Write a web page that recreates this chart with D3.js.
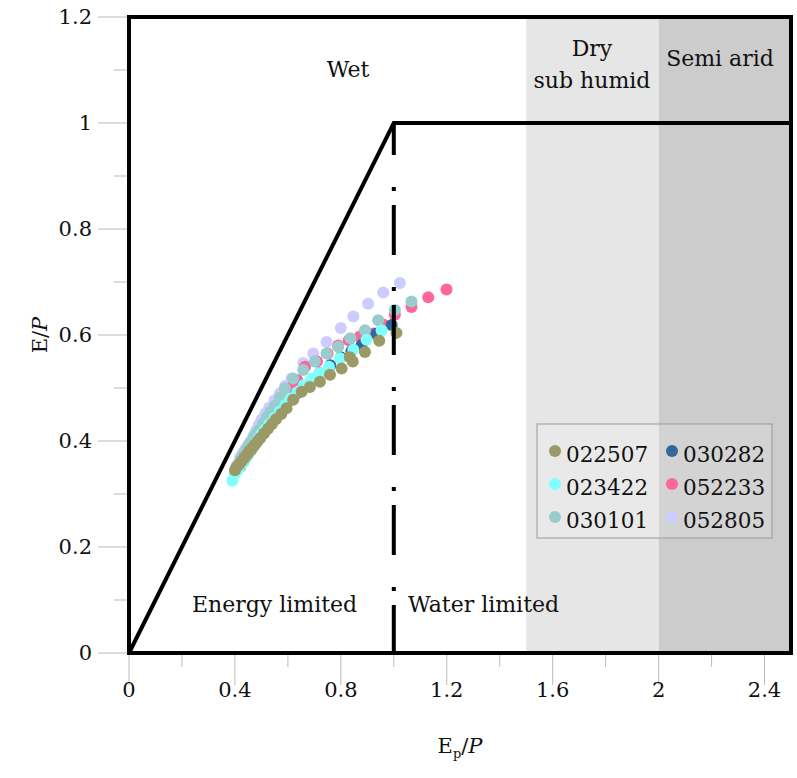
<!DOCTYPE html>
<html>
<head>
<meta charset="utf-8">
<script src="https://cdn.jsdelivr.net/npm/d3@7"></script>
<style>
  body { margin: 0; background: #fff; }
  text { font-family: "DejaVu Serif", serif; fill: #111; }
</style>
</head>
<body>
<svg width="797" height="778"></svg>
<script>
// series: [Ep/P, E/P]
var s022507 = [[0.40,0.345],[0.405,0.35],[0.415,0.355],[0.425,0.362],[0.435,0.368],[0.445,0.374],[0.455,0.381],[0.465,0.387],[0.475,0.393],[0.485,0.399],[0.495,0.405],[0.51,0.414],[0.525,0.423],[0.54,0.432],[0.555,0.441],[0.575,0.451],[0.595,0.462],[0.62,0.478],[0.652,0.493],[0.683,0.502],[0.721,0.512],[0.759,0.525],[0.803,0.537],[0.834,0.558],[0.845,0.55],[0.891,0.568],[0.945,0.589],[1.01,0.604]];
var s023422 = [[0.39,0.325],[0.40,0.338],[0.41,0.345],[0.42,0.353],[0.43,0.36],[0.44,0.368],[0.45,0.375],[0.46,0.383],[0.47,0.39],[0.48,0.398],[0.49,0.405],[0.50,0.413],[0.515,0.422],[0.53,0.432],[0.55,0.444],[0.57,0.456],[0.59,0.468],[0.61,0.48],[0.635,0.492],[0.66,0.505],[0.69,0.518],[0.72,0.528],[0.755,0.54],[0.797,0.556],[0.847,0.572],[0.897,0.591],[0.954,0.609]];
var s030101 = [[0.41,0.355],[0.42,0.363],[0.43,0.372],[0.44,0.381],[0.45,0.39],[0.46,0.398],[0.47,0.405],[0.48,0.413],[0.49,0.42],[0.505,0.432],[0.52,0.445],[0.535,0.455],[0.55,0.466],[0.57,0.482],[0.589,0.499],[0.62,0.518],[0.658,0.534],[0.702,0.55],[0.746,0.565],[0.79,0.578],[0.836,0.594],[0.891,0.609],[0.941,0.628],[1.004,0.647],[1.067,0.663]];
var s030282 = [[0.42,0.352],[0.43,0.36],[0.44,0.368],[0.45,0.375],[0.46,0.382],[0.47,0.39],[0.48,0.397],[0.49,0.404],[0.505,0.414],[0.52,0.425],[0.535,0.434],[0.55,0.443],[0.57,0.455],[0.59,0.466],[0.61,0.478],[0.635,0.49],[0.66,0.502],[0.69,0.515],[0.72,0.528],[0.76,0.543],[0.80,0.558],[0.84,0.57],[0.878,0.581],[0.935,0.603],[0.992,0.619]];
var s052233 = [[0.42,0.36],[0.43,0.368],[0.44,0.375],[0.45,0.383],[0.46,0.39],[0.47,0.398],[0.48,0.405],[0.49,0.413],[0.50,0.42],[0.515,0.431],[0.53,0.442],[0.55,0.455],[0.57,0.469],[0.59,0.484],[0.61,0.50],[0.635,0.515],[0.665,0.54],[0.71,0.55],[0.75,0.565],[0.79,0.58],[0.83,0.59],[0.872,0.597],[0.922,0.603],[0.96,0.62],[1.004,0.638],[1.067,0.653],[1.13,0.671],[1.199,0.686]];
var s052805 = [[0.42,0.37],[0.43,0.378],[0.44,0.385],[0.45,0.393],[0.46,0.40],[0.47,0.41],[0.48,0.42],[0.49,0.43],[0.50,0.44],[0.515,0.452],[0.53,0.463],[0.55,0.477],[0.57,0.49],[0.59,0.504],[0.614,0.518],[0.658,0.547],[0.696,0.565],[0.746,0.587],[0.80,0.613],[0.847,0.635],[0.903,0.659],[0.96,0.68],[1.023,0.698]];

var seriesNames = ["022507", "023422", "030101", "030282", "052233", "052805"];
var seriesData = [s022507, s023422, s030101, s030282, s052233, s052805];
var seriesColors = ["#9b9966", "#80ffff", "#99cccc", "#336699", "#ff6699", "#ccccff"];
var drawOrder = [5, 4, 3, 2, 1, 0];

var xTicks = [0, 0.4, 0.8, 1.2, 1.6, 2, 2.4];
var yTicks = [0, 0.2, 0.4, 0.6, 0.8, 1, 1.2];
var zones = [{ from: 1.5, to: 2.0, fill: "#e6e6e6" }, { from: 2.0, to: 2.5, fill: "#cccccc" }];

var svg = d3.select("svg");
var x = d3.scaleLinear([0, 2.5], [129, 791]);
var y = d3.scaleLinear([0, 1.2], [653, 17]);

// climate zone bands
svg.selectAll("rect.zone").data(zones).join("rect")
  .attr("x", d => x(d.from)).attr("width", d => x(d.to) - x(d.from))
  .attr("y", y(1.2)).attr("height", y(0) - y(1.2))
  .style("fill", d => d.fill);

// gray tick marks
var xAxis = svg.append("g").attr("transform", `translate(0,${y(0)})`);
xAxis.selectAll("line").data(d3.range(0, 2.41, 0.2)).join("line")
  .attr("x1", d => x(d)).attr("x2", d => x(d))
  .attr("y1", 0).attr("y2", (d, i) => i % 2 ? 14 : 32)
  .style("stroke", "#bbb");
xAxis.selectAll("text").data(xTicks).join("text")
  .attr("x", d => x(d)).attr("y", 44)
  .attr("text-anchor", "middle").style("font-size", "21px")
  .text(d => d);

var yAxis = svg.append("g").attr("transform", `translate(${x(0)},0)`);
yAxis.selectAll("line").data(d3.range(0, 1.21, 0.1)).join("line")
  .attr("y1", d => y(d)).attr("y2", d => y(d))
  .attr("x1", 0).attr("x2", (d, i) => i % 2 ? -15 : -31)
  .style("stroke", "#bbb");
yAxis.selectAll("text").data(yTicks).join("text")
  .attr("x", -37).attr("y", d => y(d) + 7)
  .attr("text-anchor", "end").style("font-size", "21px")
  .text(d => d);

// points
drawOrder.forEach(function (k) {
  svg.append("g").selectAll("circle").data(seriesData[k]).join("circle")
    .attr("cx", d => x(d[0])).attr("cy", d => y(d[1])).attr("r", 6)
    .style("fill", seriesColors[k]);
});

// frame and Budyko limits
svg.append("rect")
  .attr("x", x(0)).attr("y", y(1.2))
  .attr("width", x(2.5) - x(0)).attr("height", y(0) - y(1.2))
  .style("fill", "none").style("stroke", "#000").style("stroke-width", 4);
svg.append("path")
  .attr("d", d3.line()([[x(0), y(0)], [x(1), y(1)], [x(2.5), y(1)]]))
  .style("fill", "none").style("stroke", "#000").style("stroke-width", 4);
svg.append("line")
  .attr("x1", x(1)).attr("x2", x(1)).attr("y1", y(1)).attr("y2", y(0))
  .style("stroke", "#000").style("stroke-width", 4)
  .style("stroke-dasharray", "50,32,4,14").style("stroke-dashoffset", 18);

// legend
var legend = svg.append("g");
legend.append("rect").attr("x", 537).attr("y", 424).attr("width", 235).attr("height", 114)
  .style("fill", "#fff").style("fill-opacity", 0.15).style("stroke", "#999");
seriesNames.forEach(function (name, k) {
  var col = Math.floor(k / 3), row = k % 3;
  var lx = 555 + col * 117, ly = 455 + row * 33;
  legend.append("circle").attr("cx", lx).attr("cy", ly - 4).attr("r", 6).style("fill", seriesColors[k]);
  legend.append("text").attr("x", lx + 11).attr("y", ly + 7).style("font-size", "21.5px").text(name);
});

// annotations
var notes = [
  { t: "Wet", x: 348, y: 77, a: "middle" },
  { t: "Dry", x: 592, y: 56, a: "middle" },
  { t: "sub humid", x: 592, y: 88, a: "middle" },
  { t: "Semi arid", x: 720, y: 66, a: "middle" },
  { t: "Energy limited", x: 192, y: 612, a: "start" },
  { t: "Water limited", x: 408, y: 612, a: "start" }
];
svg.selectAll("text.note").data(notes).join("text")
  .attr("x", d => d.x).attr("y", d => d.y).attr("text-anchor", d => d.a)
  .style("font-size", "22px").text(d => d.t);

// axis titles
var xt = svg.append("text").attr("x", 460).attr("y", 753).attr("text-anchor", "middle").style("font-size", "21px");
xt.append("tspan").text("E");
xt.append("tspan").attr("dy", 5).style("font-size", "13px").text("p");
xt.append("tspan").attr("dy", -5).text("/");
xt.append("tspan").style("font-style", "italic").text("P");
var yt = svg.append("text").attr("transform", "translate(47,335) rotate(-90)").attr("text-anchor", "middle").style("font-size", "21px");
yt.append("tspan").text("E/");
yt.append("tspan").style("font-style", "italic").text("P");
</script>
</body>
</html>
